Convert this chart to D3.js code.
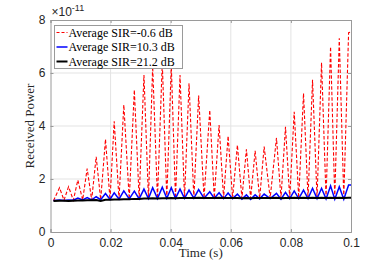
<!DOCTYPE html>
<html>
<head>
<meta charset="utf-8">
<script src="https://cdn.jsdelivr.net/npm/d3@7"></script>
<style>
  body { margin: 0; background: #fff; }
  .tick text { font-family: "Liberation Sans", Arial, sans-serif; font-size: 12px; fill: #262626; }
  .serif { font-family: "Liberation Serif", "Times New Roman", serif; }
</style>
</head>
<body>
<script>
// data (time in ms, power in units of 1e-11)
var timeMs = [1.0, 3.0, 4.5, 6.0, 7.6, 9.1, 10.7, 12.2, 13.7, 15.2, 16.7, 18.3, 19.8, 21.2, 22.8, 24.4,
  26.2, 27.9, 29.5, 31.1, 32.6, 34.0, 35.6, 37.2, 38.7, 40.2, 41.6, 43.1, 44.6, 46.1, 47.7, 49.3,
  51.1, 53.0, 54.5, 56.1, 57.6, 59.1, 60.6, 62.2, 63.7, 65.2, 66.6, 68.1, 69.6, 71.1, 73.1, 75.2,
  76.7, 78.2, 79.6, 81.1, 82.6, 84.2, 85.7, 87.2, 88.7, 90.2, 91.7, 93.2, 94.6, 96.1, 97.6, 99.2, 100.0];

var sirLow = [1.18, 1.67, 1.20, 1.71, 1.20, 1.96, 1.21, 2.39, 1.21, 2.84, 1.22, 3.50, 1.22, 4.18, 1.23, 4.80,
  1.24, 5.36, 1.25, 5.92, 1.25, 6.25, 1.26, 6.40, 1.27, 6.30, 1.27, 5.92, 1.27, 5.61, 1.28, 5.15,
  1.28, 4.60, 1.28, 4.04, 1.28, 3.62, 1.28, 3.28, 1.27, 3.12, 1.27, 3.06, 1.27, 3.22, 1.28, 3.55,
  1.28, 3.97, 1.28, 4.54, 1.28, 5.23, 1.28, 5.74, 1.28, 6.39, 1.28, 6.99, 1.29, 7.31, 1.29, 7.52, 7.55];

var sirMid = [1.19, 1.21, 1.19, 1.21, 1.20, 1.28, 1.21, 1.30, 1.21, 1.33, 1.22, 1.45, 1.23, 1.48, 1.24, 1.55,
  1.25, 1.54, 1.25, 1.62, 1.26, 1.67, 1.26, 1.69, 1.27, 1.67, 1.27, 1.62, 1.27, 1.58, 1.27, 1.60,
  1.27, 1.52, 1.27, 1.48, 1.26, 1.47, 1.26, 1.43, 1.24, 1.40, 1.23, 1.40, 1.25, 1.43, 1.26, 1.46,
  1.24, 1.50, 1.26, 1.55, 1.26, 1.58, 1.26, 1.65, 1.26, 1.65, 1.25, 1.74, 1.24, 1.71, 1.24, 1.77, 1.77];

var sirHigh = [1.17, 1.18, 1.18, 1.17, 1.18, 1.19, 1.19, 1.20, 1.20, 1.21, 1.17, 1.22, 1.22, 1.23, 1.23, 1.24,
  1.24, 1.25, 1.25, 1.26, 1.26, 1.27, 1.26, 1.27, 1.27, 1.28, 1.27, 1.28, 1.28, 1.28, 1.28, 1.29,
  1.28, 1.28, 1.28, 1.29, 1.28, 1.28, 1.28, 1.28, 1.27, 1.28, 1.27, 1.28, 1.28, 1.28, 1.28, 1.29,
  1.27, 1.28, 1.28, 1.29, 1.28, 1.29, 1.28, 1.29, 1.28, 1.29, 1.28, 1.29, 1.28, 1.29, 1.28, 1.29, 1.29];

var legendLabels = ["Average SIR=-0.6 dB", "Average SIR=10.3 dB", "Average SIR=21.2 dB"];
var xTicks = [0, 0.02, 0.04, 0.06, 0.08, 0.1];
var yTicks = [0, 2, 4, 6, 8];

// chart setup
var svgWidth = 388;
var svgHeight = 262;
var margin = { top: 20, right: 37, bottom: 30, left: 50.5 };
var width = svgWidth - margin.left - margin.right;
var height = svgHeight - margin.top - margin.bottom;

var svg = d3.select("body").append("svg")
  .attr("width", svgWidth)
  .attr("height", svgHeight);

var chartGroup = svg.append("g")
  .attr("transform", `translate(${margin.left}, ${margin.top})`);

// scales
var xScale = d3.scaleLinear().domain([0, 0.1]).range([0, width]);
var yScale = d3.scaleLinear().domain([0, 8]).range([height, 0]);

// grid
chartGroup.append("g").selectAll("line").data(xTicks.slice(1, -1)).enter().append("line")
  .attr("x1", d => xScale(d)).attr("x2", d => xScale(d))
  .attr("y1", 0).attr("y2", height)
  .attr("stroke", "#e3e3e3");
chartGroup.append("g").selectAll("line").data(yTicks.slice(1, -1)).enter().append("line")
  .attr("y1", d => yScale(d)).attr("y2", d => yScale(d))
  .attr("x1", 0).attr("x2", width)
  .attr("stroke", "#e3e3e3");

// lines
chartGroup.append("clipPath").attr("id", "plotclip")
  .append("rect").attr("width", width).attr("height", height);

var line = d3.line()
  .x((d, i) => xScale(timeMs[i] / 1000))
  .y(d => yScale(d));

chartGroup.append("path").datum(sirLow)
  .attr("d", line).attr("clip-path", "url(#plotclip)")
  .attr("fill", "none").attr("stroke", "#ff0000").attr("stroke-width", 1.1)
  .attr("stroke-dasharray", "3.5,2");

chartGroup.append("path").datum(sirMid)
  .attr("d", line).attr("clip-path", "url(#plotclip)")
  .attr("fill", "none").attr("stroke", "#0000ff").attr("stroke-width", 1.5);

chartGroup.append("path").datum(sirHigh)
  .attr("d", line).attr("clip-path", "url(#plotclip)")
  .attr("fill", "none").attr("stroke", "#000000").attr("stroke-width", 2);

// axes (ticks inside, box all round)
var bottomAxis = d3.axisBottom(xScale).tickValues(xTicks).tickSize(-3).tickPadding(6)
  .tickFormat(d => d === 0 ? "0" : d3.format("~g")(d));
var leftAxis = d3.axisLeft(yScale).tickValues(yTicks).tickSize(-3).tickPadding(5);
var topAxis = d3.axisTop(xScale).tickValues(xTicks).tickSize(-3).tickFormat("");
var rightAxis = d3.axisRight(yScale).tickValues(yTicks).tickSize(-3).tickFormat("");

var axisColor = "#9a9a9a";
[
  chartGroup.append("g").attr("transform", `translate(0, ${height})`).call(bottomAxis),
  chartGroup.append("g").call(leftAxis),
  chartGroup.append("g").call(topAxis),
  chartGroup.append("g").attr("transform", `translate(${width}, 0)`).call(rightAxis)
].forEach(function(g) {
  g.select(".domain").attr("stroke", axisColor);
  g.selectAll(".tick line").attr("stroke", axisColor);
});

// exponent label
var expo = svg.append("text")
  .attr("x", margin.left + 1).attr("y", 16)
  .style("font-family", "'Liberation Sans', Arial, sans-serif")
  .attr("font-size", 12).attr("fill", "#262626");
expo.append("tspan").text("\u00d710");
expo.append("tspan").attr("dy", -5).attr("font-size", 9).text("-11");

// axis labels
svg.append("text")
  .attr("class", "serif")
  .attr("x", margin.left + width / 2).attr("y", 257)
  .attr("text-anchor", "middle")
  .attr("font-size", 13).attr("fill", "#262626")
  .text("Time (s)");

svg.append("text")
  .attr("class", "serif")
  .attr("transform", `translate(34, ${margin.top + height / 2}) rotate(-90)`)
  .attr("text-anchor", "middle")
  .attr("font-size", 13).attr("fill", "#262626")
  .text("Received Power");

// legend
var legendColors = ["#ff0000", "#0000ff", "#000000"];
var legendDash = ["3,2", null, null];
var legendWidth = [1, 1.5, 2];

var legend = svg.append("g").attr("transform", "translate(54.5, 25.5)");
legend.append("rect")
  .attr("width", 128).attr("height", 43)
  .attr("fill", "#fff").attr("stroke", "#9a9a9a");

legendLabels.forEach(function(label, i) {
  var yy = 7 + i * 14.5;
  legend.append("line")
    .attr("x1", 2).attr("x2", 13).attr("y1", yy).attr("y2", yy)
    .attr("stroke", legendColors[i]).attr("stroke-width", legendWidth[i])
    .attr("stroke-dasharray", legendDash[i]);
  legend.append("text")
    .attr("class", "serif")
    .attr("x", 14).attr("y", yy + 4)
    .attr("font-size", 12).attr("fill", "#000")
    .text(label);
});
</script>
</body>
</html>
